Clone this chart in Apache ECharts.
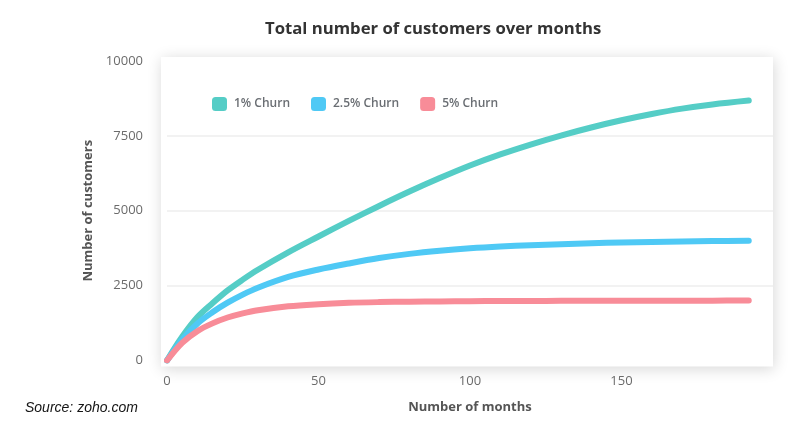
<!DOCTYPE html>
<html>
<head>
<meta charset="utf-8">
<script src="https://cdn.jsdelivr.net/npm/echarts@6/dist/echarts.min.js"></script>
<style>
html,body{margin:0;padding:0;background:#fff;}
#c{width:801px;height:437px;}
</style>
</head>
<body>
<div id="c"></div>
<script>
const titleText = 'Total number of customers over months';
const sourceText = 'Source: zoho.com';
const seriesNames = ['1% Churn', '2.5% Churn', '5% Churn'];
const months = [0, 5, 10, 15, 20, 25, 30, 40, 50, 60, 70, 80, 90, 100, 110, 120, 130, 140, 150, 160, 170, 180, 192];
const churn1 = [0, 790, 1440, 1910, 2340, 2700, 3030, 3610, 4140, 4660, 5160, 5640, 6090, 6510, 6880, 7210, 7510, 7780, 8020, 8230, 8410, 8550, 8680];
const churn25 = [0, 700, 1230, 1610, 1930, 2200, 2430, 2790, 3040, 3240, 3420, 3560, 3665, 3745, 3805, 3850, 3885, 3915, 3940, 3960, 3976, 3988, 4000];
const churn5 = [0, 590, 980, 1240, 1435, 1575, 1680, 1810, 1880, 1925, 1950, 1965, 1974, 1980, 1985, 1989, 1992, 1994, 1996, 1997, 1998, 1999, 2000];
const yTicks = [0, 2500, 5000, 7500, 10000];
const xTicks = [0, 50, 100, 150];
const colors = ['#55cdc6', '#4fc9f5', '#f88c98'];

const chart = echarts.init(document.getElementById('c'), null, {renderer: 'canvas'});
const allSeries = [churn1, churn25, churn5];

const option = {
  backgroundColor: '#fff',
  animation: false,
  title: {
    text: titleText,
    left: 260,
    top: 16,
    textStyle: {fontFamily: 'Open Sans', fontSize: 16.7, fontWeight: 'bold', color: '#333'}
  },
  legend: {
    left: 207,
    top: 92,
    itemWidth: 15,
    itemHeight: 14,
    itemGap: 21,
    icon: 'roundRect',
    textStyle: {fontFamily: 'Open Sans', fontSize: 12, fontWeight: 600, color: '#6a6e73', padding: [0, 0, 0, 2]},
    data: seriesNames
  },
  grid: {left: 167, right: 28, top: 61, bottom: 76.5},
  xAxis: {
    type: 'value',
    min: 0,
    max: 200,
    interval: 50,
    axisLine: {show: false},
    axisTick: {show: false},
    splitLine: {show: false},
    axisLabel: {
      margin: 14,
      fontFamily: 'Open Sans', fontSize: 13, color: '#6b6b6b',
      formatter: v => (xTicks.indexOf(v) >= 0 ? String(v) : '')
    },
    name: 'Number of months',
    nameLocation: 'middle',
    nameGap: 40,
    nameTextStyle: {fontFamily: 'Open Sans', fontSize: 13, fontWeight: 'bold', color: '#555'}
  },
  yAxis: {
    type: 'value',
    min: yTicks[0],
    max: yTicks[yTicks.length - 1],
    interval: 2500,
    axisLine: {show: false},
    axisTick: {show: false},
    splitLine: {show: true, lineStyle: {color: ['transparent', '#eeeeee', '#eeeeee', '#eeeeee', 'transparent'], width: 1.5}},
    axisLabel: {margin: 24, fontFamily: 'Open Sans', fontSize: 13, color: '#6b6b6b', formatter: v => String(v)},
    name: 'Number of customers',
    nameLocation: 'middle',
    nameGap: 69,
    nameTextStyle: {fontFamily: 'Open Sans', fontSize: 13, fontWeight: 'bold', color: '#555'}
  },
  series: seriesNames.map((name, i) => ({
    name: name,
    type: 'line',
    data: months.map((m, j) => [m, allSeries[i][j]]),
    smooth: 0.35,
    showSymbol: false,
    symbol: 'none',
    color: colors[i],
    lineStyle: {width: 6, color: colors[i], cap: 'round', join: 'round'},
    z: 3 + i
  }))
};
chart.setOption(option);

const p0 = chart.convertToPixel({gridIndex: 0}, [0, 0]);
const p1 = chart.convertToPixel({gridIndex: 0}, [200, 10000]);
chart.setOption({
  graphic: {
    elements: [
      {
        type: 'rect',
        z: -10,
        silent: true,
        shape: {x: p0[0] - 6, y: p1[1] - 4, width: (p1[0] - p0[0]) + 6, height: (p0[1] - p1[1]) + 10},
        style: {fill: '#fff', shadowBlur: 14, shadowColor: 'rgba(0,0,0,0.16)', shadowOffsetX: 1, shadowOffsetY: 2}
      },
      {
        type: 'text',
        left: 25,
        top: 401,
        silent: true,
        style: {text: sourceText, font: 'italic 14px "Liberation Sans", sans-serif', fill: '#151515'}
      }
    ]
  }
});
</script>
</body>
</html>
